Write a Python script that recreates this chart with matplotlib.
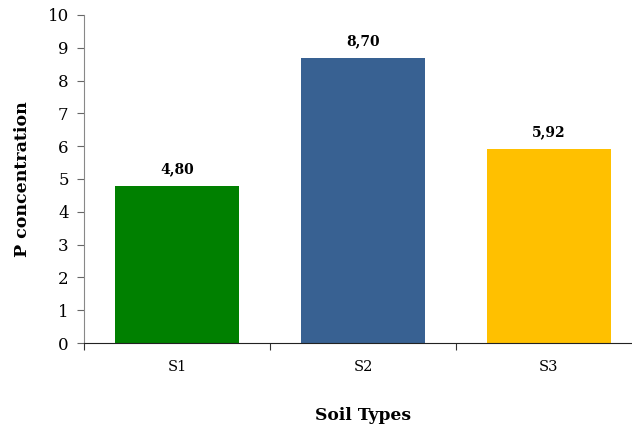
import matplotlib
matplotlib.use("Agg")
import matplotlib.pyplot as plt

soil_types = ["S1", "S2", "S3"]
p_values = [4.80, 8.70, 5.92]
bar_colors = ["#008000", "#386192", "#FFC000"]

plt.rcParams['font.family'] = ['DejaVu Serif']

fig = plt.figure(figsize=(6.32, 4.29), dpi=100)
axes = fig.add_axes([84 / 632, 86 / 429, 558 / 632, 328 / 429])

x = range(1, len(soil_types) + 1)
axes.bar(x, p_values, width=0.667, color=bar_colors)

for xi, v in zip(x, p_values):
    axes.text(xi, v + 0.3, f"{v:.2f}".replace(".", ","), ha='center', va='bottom',
              fontsize=10, fontweight='bold')

axes.set_xlim(0.5, 3.5)
axes.set_ylim(0, 10)
axes.set_yticks(range(0, 11))
axes.set_xticks([0.5, 1.5, 2.5, 3.5])
axes.set_xticklabels([])
axes.set_xticks(list(x), soil_types, minor=True)
axes.tick_params(axis='x', which='minor', length=0, pad=12, labelsize=10.5)
axes.tick_params(axis='x', which='major', length=5, color='#333333')
axes.tick_params(axis='y', length=5, labelsize=12, color='#666666', pad=6)

axes.spines['right'].set_color('none')
axes.spines['top'].set_color('none')
axes.spines['left'].set_color('#888888')
axes.spines['bottom'].set_color('#222222')

axes.set_xlabel('Soil Types', fontsize=12.3, fontweight='bold', labelpad=24)
axes.set_ylabel('P concentration', fontsize=12.5, fontweight='bold', labelpad=12)

fig.savefig('out.png', dpi=100)
